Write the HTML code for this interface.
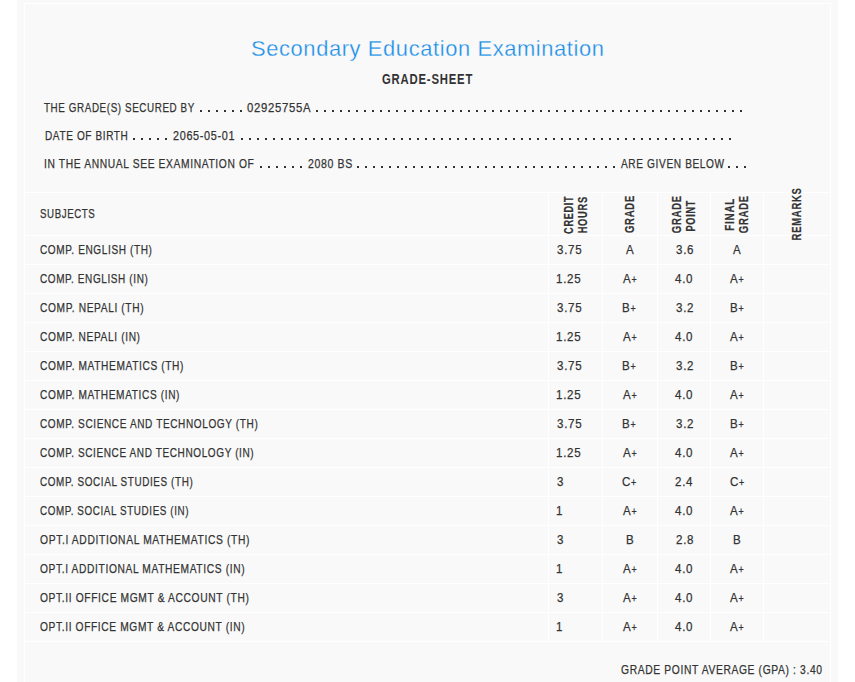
<!DOCTYPE html>
<html><head><meta charset="utf-8"><title>Grade Sheet</title>
<style>
html,body{margin:0;padding:0;background:#fff;width:855px;height:682px;overflow:hidden}
.page{position:absolute;left:17px;top:0;width:821px;height:682px;background:#f9f9f9}
.l{position:absolute;background:#fff}
.t{position:absolute;white-space:nowrap;font-family:"Liberation Sans",sans-serif;color:#333;transform-origin:0 0}
.d{position:absolute;height:2px;background:linear-gradient(to right,#333 0,#333 2px,transparent 2px,transparent 8px);background-size:8px 2px}
</style></head><body>
<div class="page"></div>
<div class="l" style="left:24px;top:3px;width:807px;height:1px"></div>
<div class="l" style="left:24px;top:3px;width:1px;height:679px"></div>
<div class="l" style="left:830px;top:3px;width:1px;height:679px"></div>
<div class="l" style="left:24px;top:192px;width:807px;height:1px"></div>
<div class="l" style="left:24px;top:235px;width:807px;height:1px"></div>
<div class="l" style="left:24px;top:264px;width:807px;height:1px"></div>
<div class="l" style="left:24px;top:293px;width:807px;height:1px"></div>
<div class="l" style="left:24px;top:322px;width:807px;height:1px"></div>
<div class="l" style="left:24px;top:351px;width:807px;height:1px"></div>
<div class="l" style="left:24px;top:380px;width:807px;height:1px"></div>
<div class="l" style="left:24px;top:409px;width:807px;height:1px"></div>
<div class="l" style="left:24px;top:438px;width:807px;height:1px"></div>
<div class="l" style="left:24px;top:467px;width:807px;height:1px"></div>
<div class="l" style="left:24px;top:496px;width:807px;height:1px"></div>
<div class="l" style="left:24px;top:525px;width:807px;height:1px"></div>
<div class="l" style="left:24px;top:554px;width:807px;height:1px"></div>
<div class="l" style="left:24px;top:583px;width:807px;height:1px"></div>
<div class="l" style="left:24px;top:612px;width:807px;height:1px"></div>
<div class="l" style="left:24px;top:641px;width:807px;height:1px"></div>
<div class="l" style="left:548px;top:192px;width:1px;height:450px"></div>
<div class="l" style="left:602px;top:192px;width:1px;height:450px"></div>
<div class="l" style="left:657px;top:192px;width:1px;height:450px"></div>
<div class="l" style="left:710px;top:192px;width:1px;height:450px"></div>
<div class="l" style="left:763px;top:192px;width:1px;height:450px"></div>
<div class="d" style="left:200px;top:110px;width:48px"></div>
<div class="d" style="left:316px;top:110px;width:432px"></div>
<div class="d" style="left:133px;top:138px;width:40px"></div>
<div class="d" style="left:241px;top:138px;width:496px"></div>
<div class="d" style="left:260px;top:166px;width:48px"></div>
<div class="d" style="left:357px;top:166px;width:264px"></div>
<div class="d" style="left:728px;top:166px;width:24px"></div>
<div class="t" style="left:250.51px;top:38.00px;font-size:22px;line-height:22px;color:#1a8ee6;letter-spacing:0.6px;-webkit-text-stroke:0.3px #f9f9f9;transform:scaleX(0.9963)">Secondary Education Examination</div>
<div class="t" style="left:381.59px;top:72.00px;font-size:14px;line-height:14px;font-weight:700;letter-spacing:1.0px;transform:scaleX(0.8072)">GRADE-SHEET</div>
<div class="t" style="left:44.40px;top:101.00px;font-size:13px;line-height:13px;letter-spacing:0.8px;-webkit-text-stroke:0.25px #333;transform:scaleX(0.7558)">THE GRADE(S) SECURED BY</div>
<div class="t" style="left:247.20px;top:101.00px;font-size:13px;line-height:13px;letter-spacing:0.8px;-webkit-text-stroke:0.25px #333;transform:scaleX(0.8726)">02925755A</div>
<div class="t" style="left:44.53px;top:129.00px;font-size:13px;line-height:13px;letter-spacing:0.8px;-webkit-text-stroke:0.25px #333;transform:scaleX(0.7717)">DATE OF BIRTH</div>
<div class="t" style="left:173.00px;top:129.00px;font-size:13px;line-height:13px;letter-spacing:0.8px;-webkit-text-stroke:0.25px #333;transform:scaleX(0.8338)">2065-05-01</div>
<div class="t" style="left:43.91px;top:157.00px;font-size:13px;line-height:13px;letter-spacing:0.8px;-webkit-text-stroke:0.25px #333;transform:scaleX(0.7894)">IN THE ANNUAL SEE EXAMINATION OF</div>
<div class="t" style="left:307.90px;top:157.00px;font-size:13px;line-height:13px;letter-spacing:0.8px;-webkit-text-stroke:0.25px #333;transform:scaleX(0.8093)">2080 BS</div>
<div class="t" style="left:620.50px;top:157.00px;font-size:13px;line-height:13px;letter-spacing:0.8px;-webkit-text-stroke:0.25px #333;transform:scaleX(0.7782)">ARE GIVEN BELOW</div>
<div class="t" style="left:39.55px;top:206.50px;font-size:13px;line-height:13px;letter-spacing:0.8px;-webkit-text-stroke:0.25px #333;transform:scaleX(0.7458)">SUBJECTS</div>
<div class="t" style="left:621.30px;top:663.00px;font-size:13px;line-height:13px;letter-spacing:0.8px;-webkit-text-stroke:0.25px #333;transform:scaleX(0.7921)">GRADE POINT AVERAGE (GPA) : 3.40</div>
<div class="t" style="left:40.30px;top:243.00px;font-size:13px;line-height:13px;letter-spacing:0.8px;-webkit-text-stroke:0.25px #333;transform:scaleX(0.7729)">COMP. ENGLISH (TH)</div>
<div class="t" style="left:557.00px;top:243.00px;font-size:13px;line-height:13px;letter-spacing:0.8px;-webkit-text-stroke:0.25px #333;transform:scaleX(0.8888)">3.75</div>
<div class="t" style="left:625.50px;top:243.00px;font-size:13px;line-height:13px;letter-spacing:0.8px;-webkit-text-stroke:0.25px #333;transform:scaleX(0.8888)">A</div>
<div class="t" style="left:675.56px;top:243.00px;font-size:13px;line-height:13px;letter-spacing:0.8px;-webkit-text-stroke:0.25px #333;transform:scaleX(0.8888)">3.6</div>
<div class="t" style="left:733.00px;top:243.00px;font-size:13px;line-height:13px;letter-spacing:0.8px;-webkit-text-stroke:0.25px #333;transform:scaleX(0.8888)">A</div>
<div class="t" style="left:40.30px;top:272.00px;font-size:13px;line-height:13px;letter-spacing:0.8px;-webkit-text-stroke:0.25px #333;transform:scaleX(0.7671)">COMP. ENGLISH (IN)</div>
<div class="t" style="left:556.11px;top:272.00px;font-size:13px;line-height:13px;letter-spacing:0.8px;-webkit-text-stroke:0.25px #333;transform:scaleX(0.8888)">1.25</div>
<div class="t" style="left:622.83px;top:272.00px;font-size:13px;line-height:13px;letter-spacing:0.8px;-webkit-text-stroke:0.25px #333;transform:scaleX(0.8888)">A<span style="font-size:10px">+</span></div>
<div class="t" style="left:675.11px;top:272.00px;font-size:13px;line-height:13px;letter-spacing:0.8px;-webkit-text-stroke:0.25px #333;transform:scaleX(0.8888)">4.0</div>
<div class="t" style="left:730.33px;top:272.00px;font-size:13px;line-height:13px;letter-spacing:0.8px;-webkit-text-stroke:0.25px #333;transform:scaleX(0.8888)">A<span style="font-size:10px">+</span></div>
<div class="t" style="left:40.30px;top:301.00px;font-size:13px;line-height:13px;letter-spacing:0.8px;-webkit-text-stroke:0.25px #333;transform:scaleX(0.7833)">COMP. NEPALI (TH)</div>
<div class="t" style="left:557.00px;top:301.00px;font-size:13px;line-height:13px;letter-spacing:0.8px;-webkit-text-stroke:0.25px #333;transform:scaleX(0.8888)">3.75</div>
<div class="t" style="left:622.39px;top:301.00px;font-size:13px;line-height:13px;letter-spacing:0.8px;-webkit-text-stroke:0.25px #333;transform:scaleX(0.8888)">B<span style="font-size:10px">+</span></div>
<div class="t" style="left:675.56px;top:301.00px;font-size:13px;line-height:13px;letter-spacing:0.8px;-webkit-text-stroke:0.25px #333;transform:scaleX(0.8888)">3.2</div>
<div class="t" style="left:729.89px;top:301.00px;font-size:13px;line-height:13px;letter-spacing:0.8px;-webkit-text-stroke:0.25px #333;transform:scaleX(0.8888)">B<span style="font-size:10px">+</span></div>
<div class="t" style="left:40.30px;top:330.00px;font-size:13px;line-height:13px;letter-spacing:0.8px;-webkit-text-stroke:0.25px #333;transform:scaleX(0.7819)">COMP. NEPALI (IN)</div>
<div class="t" style="left:556.11px;top:330.00px;font-size:13px;line-height:13px;letter-spacing:0.8px;-webkit-text-stroke:0.25px #333;transform:scaleX(0.8888)">1.25</div>
<div class="t" style="left:622.83px;top:330.00px;font-size:13px;line-height:13px;letter-spacing:0.8px;-webkit-text-stroke:0.25px #333;transform:scaleX(0.8888)">A<span style="font-size:10px">+</span></div>
<div class="t" style="left:675.11px;top:330.00px;font-size:13px;line-height:13px;letter-spacing:0.8px;-webkit-text-stroke:0.25px #333;transform:scaleX(0.8888)">4.0</div>
<div class="t" style="left:730.33px;top:330.00px;font-size:13px;line-height:13px;letter-spacing:0.8px;-webkit-text-stroke:0.25px #333;transform:scaleX(0.8888)">A<span style="font-size:10px">+</span></div>
<div class="t" style="left:40.30px;top:359.00px;font-size:13px;line-height:13px;letter-spacing:0.8px;-webkit-text-stroke:0.25px #333;transform:scaleX(0.7809)">COMP. MATHEMATICS (TH)</div>
<div class="t" style="left:557.00px;top:359.00px;font-size:13px;line-height:13px;letter-spacing:0.8px;-webkit-text-stroke:0.25px #333;transform:scaleX(0.8888)">3.75</div>
<div class="t" style="left:622.39px;top:359.00px;font-size:13px;line-height:13px;letter-spacing:0.8px;-webkit-text-stroke:0.25px #333;transform:scaleX(0.8888)">B<span style="font-size:10px">+</span></div>
<div class="t" style="left:675.56px;top:359.00px;font-size:13px;line-height:13px;letter-spacing:0.8px;-webkit-text-stroke:0.25px #333;transform:scaleX(0.8888)">3.2</div>
<div class="t" style="left:729.89px;top:359.00px;font-size:13px;line-height:13px;letter-spacing:0.8px;-webkit-text-stroke:0.25px #333;transform:scaleX(0.8888)">B<span style="font-size:10px">+</span></div>
<div class="t" style="left:40.30px;top:388.00px;font-size:13px;line-height:13px;letter-spacing:0.8px;-webkit-text-stroke:0.25px #333;transform:scaleX(0.7777)">COMP. MATHEMATICS (IN)</div>
<div class="t" style="left:556.11px;top:388.00px;font-size:13px;line-height:13px;letter-spacing:0.8px;-webkit-text-stroke:0.25px #333;transform:scaleX(0.8888)">1.25</div>
<div class="t" style="left:622.83px;top:388.00px;font-size:13px;line-height:13px;letter-spacing:0.8px;-webkit-text-stroke:0.25px #333;transform:scaleX(0.8888)">A<span style="font-size:10px">+</span></div>
<div class="t" style="left:675.11px;top:388.00px;font-size:13px;line-height:13px;letter-spacing:0.8px;-webkit-text-stroke:0.25px #333;transform:scaleX(0.8888)">4.0</div>
<div class="t" style="left:730.33px;top:388.00px;font-size:13px;line-height:13px;letter-spacing:0.8px;-webkit-text-stroke:0.25px #333;transform:scaleX(0.8888)">A<span style="font-size:10px">+</span></div>
<div class="t" style="left:40.30px;top:417.00px;font-size:13px;line-height:13px;letter-spacing:0.8px;-webkit-text-stroke:0.25px #333;transform:scaleX(0.7720)">COMP. SCIENCE AND TECHNOLOGY (TH)</div>
<div class="t" style="left:557.00px;top:417.00px;font-size:13px;line-height:13px;letter-spacing:0.8px;-webkit-text-stroke:0.25px #333;transform:scaleX(0.8888)">3.75</div>
<div class="t" style="left:622.39px;top:417.00px;font-size:13px;line-height:13px;letter-spacing:0.8px;-webkit-text-stroke:0.25px #333;transform:scaleX(0.8888)">B<span style="font-size:10px">+</span></div>
<div class="t" style="left:675.56px;top:417.00px;font-size:13px;line-height:13px;letter-spacing:0.8px;-webkit-text-stroke:0.25px #333;transform:scaleX(0.8888)">3.2</div>
<div class="t" style="left:729.89px;top:417.00px;font-size:13px;line-height:13px;letter-spacing:0.8px;-webkit-text-stroke:0.25px #333;transform:scaleX(0.8888)">B<span style="font-size:10px">+</span></div>
<div class="t" style="left:40.30px;top:446.00px;font-size:13px;line-height:13px;letter-spacing:0.8px;-webkit-text-stroke:0.25px #333;transform:scaleX(0.7693)">COMP. SCIENCE AND TECHNOLOGY (IN)</div>
<div class="t" style="left:556.11px;top:446.00px;font-size:13px;line-height:13px;letter-spacing:0.8px;-webkit-text-stroke:0.25px #333;transform:scaleX(0.8888)">1.25</div>
<div class="t" style="left:622.83px;top:446.00px;font-size:13px;line-height:13px;letter-spacing:0.8px;-webkit-text-stroke:0.25px #333;transform:scaleX(0.8888)">A<span style="font-size:10px">+</span></div>
<div class="t" style="left:675.11px;top:446.00px;font-size:13px;line-height:13px;letter-spacing:0.8px;-webkit-text-stroke:0.25px #333;transform:scaleX(0.8888)">4.0</div>
<div class="t" style="left:730.33px;top:446.00px;font-size:13px;line-height:13px;letter-spacing:0.8px;-webkit-text-stroke:0.25px #333;transform:scaleX(0.8888)">A<span style="font-size:10px">+</span></div>
<div class="t" style="left:40.30px;top:475.00px;font-size:13px;line-height:13px;letter-spacing:0.8px;-webkit-text-stroke:0.25px #333;transform:scaleX(0.7615)">COMP. SOCIAL STUDIES (TH)</div>
<div class="t" style="left:557.00px;top:475.00px;font-size:13px;line-height:13px;letter-spacing:0.8px;-webkit-text-stroke:0.25px #333;transform:scaleX(0.8888)">3</div>
<div class="t" style="left:622.39px;top:475.00px;font-size:13px;line-height:13px;letter-spacing:0.8px;-webkit-text-stroke:0.25px #333;transform:scaleX(0.8888)">C<span style="font-size:10px">+</span></div>
<div class="t" style="left:675.11px;top:475.00px;font-size:13px;line-height:13px;letter-spacing:0.8px;-webkit-text-stroke:0.25px #333;transform:scaleX(0.8888)">2.4</div>
<div class="t" style="left:729.89px;top:475.00px;font-size:13px;line-height:13px;letter-spacing:0.8px;-webkit-text-stroke:0.25px #333;transform:scaleX(0.8888)">C<span style="font-size:10px">+</span></div>
<div class="t" style="left:40.30px;top:504.00px;font-size:13px;line-height:13px;letter-spacing:0.8px;-webkit-text-stroke:0.25px #333;transform:scaleX(0.7571)">COMP. SOCIAL STUDIES (IN)</div>
<div class="t" style="left:556.11px;top:504.00px;font-size:13px;line-height:13px;letter-spacing:0.8px;-webkit-text-stroke:0.25px #333;transform:scaleX(0.8888)">1</div>
<div class="t" style="left:622.83px;top:504.00px;font-size:13px;line-height:13px;letter-spacing:0.8px;-webkit-text-stroke:0.25px #333;transform:scaleX(0.8888)">A<span style="font-size:10px">+</span></div>
<div class="t" style="left:675.11px;top:504.00px;font-size:13px;line-height:13px;letter-spacing:0.8px;-webkit-text-stroke:0.25px #333;transform:scaleX(0.8888)">4.0</div>
<div class="t" style="left:730.33px;top:504.00px;font-size:13px;line-height:13px;letter-spacing:0.8px;-webkit-text-stroke:0.25px #333;transform:scaleX(0.8888)">A<span style="font-size:10px">+</span></div>
<div class="t" style="left:40.30px;top:533.00px;font-size:13px;line-height:13px;letter-spacing:0.8px;-webkit-text-stroke:0.25px #333;transform:scaleX(0.7924)">OPT.I ADDITIONAL MATHEMATICS (TH)</div>
<div class="t" style="left:557.00px;top:533.00px;font-size:13px;line-height:13px;letter-spacing:0.8px;-webkit-text-stroke:0.25px #333;transform:scaleX(0.8888)">3</div>
<div class="t" style="left:625.50px;top:533.00px;font-size:13px;line-height:13px;letter-spacing:0.8px;-webkit-text-stroke:0.25px #333;transform:scaleX(0.8888)">B</div>
<div class="t" style="left:675.56px;top:533.00px;font-size:13px;line-height:13px;letter-spacing:0.8px;-webkit-text-stroke:0.25px #333;transform:scaleX(0.8888)">2.8</div>
<div class="t" style="left:733.00px;top:533.00px;font-size:13px;line-height:13px;letter-spacing:0.8px;-webkit-text-stroke:0.25px #333;transform:scaleX(0.8888)">B</div>
<div class="t" style="left:40.30px;top:562.00px;font-size:13px;line-height:13px;letter-spacing:0.8px;-webkit-text-stroke:0.25px #333;transform:scaleX(0.7865)">OPT.I ADDITIONAL MATHEMATICS (IN)</div>
<div class="t" style="left:556.11px;top:562.00px;font-size:13px;line-height:13px;letter-spacing:0.8px;-webkit-text-stroke:0.25px #333;transform:scaleX(0.8888)">1</div>
<div class="t" style="left:622.83px;top:562.00px;font-size:13px;line-height:13px;letter-spacing:0.8px;-webkit-text-stroke:0.25px #333;transform:scaleX(0.8888)">A<span style="font-size:10px">+</span></div>
<div class="t" style="left:675.11px;top:562.00px;font-size:13px;line-height:13px;letter-spacing:0.8px;-webkit-text-stroke:0.25px #333;transform:scaleX(0.8888)">4.0</div>
<div class="t" style="left:730.33px;top:562.00px;font-size:13px;line-height:13px;letter-spacing:0.8px;-webkit-text-stroke:0.25px #333;transform:scaleX(0.8888)">A<span style="font-size:10px">+</span></div>
<div class="t" style="left:40.30px;top:591.00px;font-size:13px;line-height:13px;letter-spacing:0.8px;-webkit-text-stroke:0.25px #333;transform:scaleX(0.7883)">OPT.II OFFICE MGMT &amp; ACCOUNT (TH)</div>
<div class="t" style="left:557.00px;top:591.00px;font-size:13px;line-height:13px;letter-spacing:0.8px;-webkit-text-stroke:0.25px #333;transform:scaleX(0.8888)">3</div>
<div class="t" style="left:622.83px;top:591.00px;font-size:13px;line-height:13px;letter-spacing:0.8px;-webkit-text-stroke:0.25px #333;transform:scaleX(0.8888)">A<span style="font-size:10px">+</span></div>
<div class="t" style="left:675.11px;top:591.00px;font-size:13px;line-height:13px;letter-spacing:0.8px;-webkit-text-stroke:0.25px #333;transform:scaleX(0.8888)">4.0</div>
<div class="t" style="left:730.33px;top:591.00px;font-size:13px;line-height:13px;letter-spacing:0.8px;-webkit-text-stroke:0.25px #333;transform:scaleX(0.8888)">A<span style="font-size:10px">+</span></div>
<div class="t" style="left:40.30px;top:620.00px;font-size:13px;line-height:13px;letter-spacing:0.8px;-webkit-text-stroke:0.25px #333;transform:scaleX(0.7850)">OPT.II OFFICE MGMT &amp; ACCOUNT (IN)</div>
<div class="t" style="left:556.11px;top:620.00px;font-size:13px;line-height:13px;letter-spacing:0.8px;-webkit-text-stroke:0.25px #333;transform:scaleX(0.8888)">1</div>
<div class="t" style="left:622.83px;top:620.00px;font-size:13px;line-height:13px;letter-spacing:0.8px;-webkit-text-stroke:0.25px #333;transform:scaleX(0.8888)">A<span style="font-size:10px">+</span></div>
<div class="t" style="left:675.11px;top:620.00px;font-size:13px;line-height:13px;letter-spacing:0.8px;-webkit-text-stroke:0.25px #333;transform:scaleX(0.8888)">4.0</div>
<div class="t" style="left:730.33px;top:620.00px;font-size:13px;line-height:13px;letter-spacing:0.8px;-webkit-text-stroke:0.25px #333;transform:scaleX(0.8888)">A<span style="font-size:10px">+</span></div>
<div class="t" style="left:0;top:0;font-size:13px;line-height:13px;font-weight:700;letter-spacing:1.0px;-webkit-text-stroke:0.2px #333;transform:translate(562.20px,233.90px) rotate(-90deg) scaleX(0.7037)">CREDIT</div>
<div class="t" style="left:0;top:0;font-size:13px;line-height:13px;font-weight:700;letter-spacing:1.0px;-webkit-text-stroke:0.2px #333;transform:translate(576.00px,233.32px) rotate(-90deg) scaleX(0.7160)">HOURS</div>
<div class="t" style="left:0;top:0;font-size:13px;line-height:13px;font-weight:700;letter-spacing:1.0px;-webkit-text-stroke:0.2px #333;transform:translate(622.90px,233.10px) rotate(-90deg) scaleX(0.7333)">GRADE</div>
<div class="t" style="left:0;top:0;font-size:13px;line-height:13px;font-weight:700;letter-spacing:1.0px;-webkit-text-stroke:0.2px #333;transform:translate(670.20px,233.20px) rotate(-90deg) scaleX(0.7333)">GRADE</div>
<div class="t" style="left:0;top:0;font-size:13px;line-height:13px;font-weight:700;letter-spacing:1.0px;-webkit-text-stroke:0.2px #333;transform:translate(683.60px,231.50px) rotate(-90deg) scaleX(0.7047)">POINT</div>
<div class="t" style="left:0;top:0;font-size:13px;line-height:13px;font-weight:700;letter-spacing:1.0px;-webkit-text-stroke:0.2px #333;transform:translate(723.10px,230.76px) rotate(-90deg) scaleX(0.7585)">FINAL</div>
<div class="t" style="left:0;top:0;font-size:13px;line-height:13px;font-weight:700;letter-spacing:1.0px;-webkit-text-stroke:0.2px #333;transform:translate(736.60px,233.20px) rotate(-90deg) scaleX(0.7333)">GRADE</div>
<div class="t" style="left:0;top:0;font-size:13px;line-height:13px;font-weight:700;letter-spacing:1.0px;-webkit-text-stroke:0.2px #333;transform:translate(789.70px,240.43px) rotate(-90deg) scaleX(0.7300)">REMARKS</div>
</body></html>
